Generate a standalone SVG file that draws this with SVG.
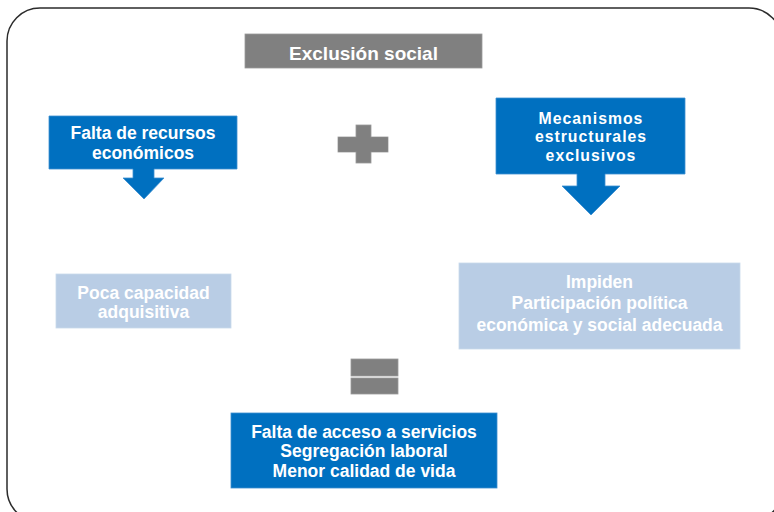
<svg xmlns="http://www.w3.org/2000/svg" width="774" height="512" viewBox="0 0 774 512">
  <style>
    .t { font-family: "Liberation Sans", Arial, sans-serif; font-weight: bold; font-size: 17.5px; fill: #ffffff; text-anchor: middle; }
    .tight { font-size: 15.8px; letter-spacing: 1px; }
    .blue { fill: #0070C0; stroke: #3d8fd0; stroke-width: 0.8; }
    .light { fill: #B9CDE5; stroke: #c9d9ec; stroke-width: 0.8; }
    .gray { fill: #808080; stroke: #9a9a9a; stroke-width: 0.8; }
  </style>
  <rect width="774" height="512" fill="#ffffff"/>
  <rect id="frame" x="7" y="8" width="775" height="514" rx="33" ry="33" fill="none" stroke="#2b2b2b" stroke-width="1.5"/>

  <g id="exclusion-social">
    <rect class="gray" x="245" y="34" width="237" height="34"/>
    <text class="t" x="363.5" y="60" style="font-size:19px">Exclusión social</text>
  </g>

  <g id="falta-recursos">
    <path class="blue" d="M49,116 H237 V169 H154 V178 H164 L144,199 L123,178 H133 V169 H49 Z"/>
    <text class="t" x="143" y="139">Falta de recursos</text>
    <text class="t" x="143" y="159">económicos</text>
  </g>

  <g id="plus">
    <rect class="gray" x="338" y="137" width="50" height="15"/>
    <rect class="gray" x="356" y="125" width="15" height="38"/>
    <rect x="338.4" y="137.4" width="49.2" height="14.2" fill="#808080"/>
  </g>

  <g id="mecanismos">
    <path class="blue" d="M496,98 H685 V174 H605 V186 H620 L591,215 L562,186 H577 V174 H496 Z"/>
    <text class="t tight" x="591" y="123.5">Mecanismos</text>
    <text class="t tight" x="591" y="142">estructurales</text>
    <text class="t tight" x="591" y="160.5">exclusivos</text>
  </g>

  <g id="poca-capacidad">
    <rect class="light" x="56" y="274" width="175" height="54"/>
    <text class="t" x="143.5" y="299">Poca capacidad</text>
    <text class="t" x="143.5" y="318">adquisitiva</text>
  </g>

  <g id="impiden">
    <rect class="light" x="459" y="263" width="281" height="86"/>
    <text class="t" x="599.5" y="288">Impiden</text>
    <text class="t" x="599.5" y="309">Participación política</text>
    <text class="t" x="599.5" y="331">económica y social adecuada</text>
  </g>

  <g id="equals">
    <rect class="gray" x="351" y="359" width="47" height="17"/>
    <rect class="gray" x="351" y="378" width="47" height="16"/>
  </g>

  <g id="resultado">
    <rect class="blue" x="231" y="413" width="266" height="75"/>
    <text class="t" x="364" y="438">Falta de acceso a servicios</text>
    <text class="t" x="364" y="457">Segregación laboral</text>
    <text class="t" x="364" y="477">Menor calidad de vida</text>
  </g>

  <g id="connectors"></g>
</svg>
